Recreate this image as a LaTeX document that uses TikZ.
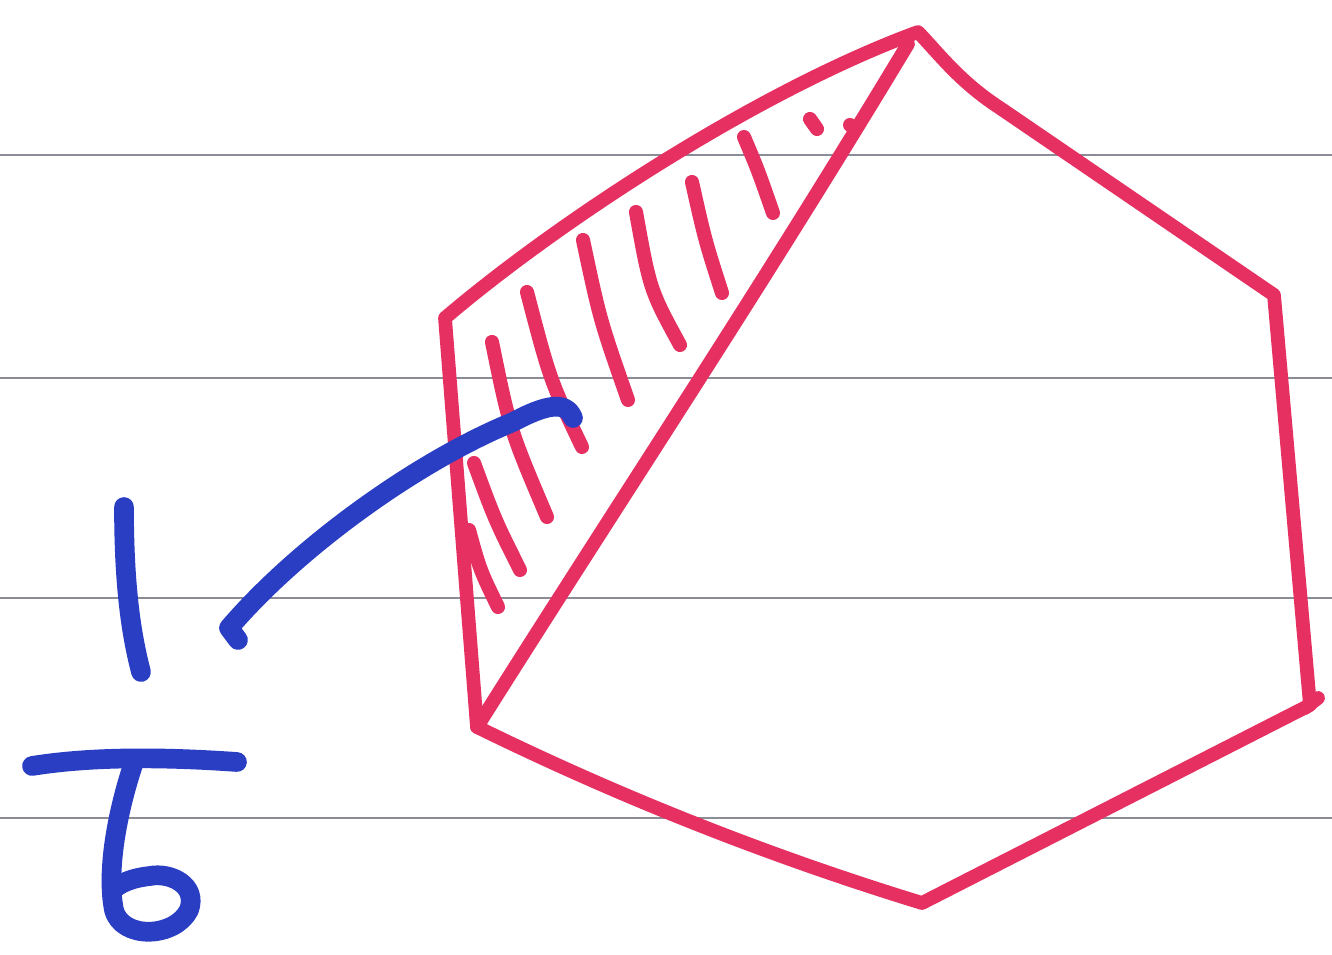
\documentclass[tikz,border=0pt]{standalone}
\usetikzlibrary{calc}
\definecolor{inkpink}{RGB}{230,48,98}
\definecolor{inkblue}{RGB}{42,62,196}
\definecolor{ruleline}{RGB}{140,140,150}
\tikzset{
  pinkpen/.style={draw=inkpink,line width=3.9pt,line cap=round,line join=round},
  hatchpen/.style={draw=inkpink,line width=4pt,line cap=round},
  bluepen/.style={draw=inkblue,line width=5.6pt,line cap=round,line join=round},
  rulepen/.style={draw=ruleline,line width=0.6pt}
}
\begin{document}
\begin{tikzpicture}[x=0.01cm,y=-0.01cm]
\fill[white] (0,0) rectangle (1332,955);
\useasboundingbox (0,0) rectangle (1332,955);
% ruled paper lines
\foreach \yy in {155,378,598,818}{
  \draw[rulepen] (0,\yy) -- (1332,\yy);
}
% hexagon vertices
\coordinate (A) at (918,32);
\coordinate (A2) at (1000,108);
\coordinate (B) at (1274,295);
\coordinate (C) at (1310,705);
\coordinate (D) at (922,903);
\coordinate (E) at (477,727);
\coordinate (F) at (445,318);
\coordinate (Atip) at (908,44);
% hexagon
\draw[pinkpen] (F) .. controls (560,220) and (760,90) .. (A)
  .. controls (940,55) and (960,82) .. (A2) -- (B) -- (C) -- (D)
  .. controls (775,858) and (626,800) .. (E) -- (F) -- cycle;
\draw[pinkpen] (1305,708) -- (1318,698);
% diagonal
\draw[pinkpen] (E) .. controls (620,500) and (760,290) .. (Atip);
\fill[inkpink] (850,125) circle (7);
% hatching
\draw[hatchpen] (810,119) -- (817,129);
\draw[hatchpen] (744,137) .. controls (758,170) .. (773,213);
\draw[hatchpen] (692,182) .. controls (705,240) .. (722,293);
\draw[hatchpen] (636,212) .. controls (650,290) .. (680,345);
\draw[hatchpen] (583,240) .. controls (600,320) .. (628,400);
\draw[hatchpen] (527,292) .. controls (550,380) .. (582,447);
\draw[hatchpen] (492,342) .. controls (510,430) .. (547,517);
\draw[hatchpen] (474,463) .. controls (495,520) .. (520,570);
\draw[hatchpen] (469,530) .. controls (480,570) .. (498,607);
% blue pointer curve
\coordinate (P0) at (238,640);
\coordinate (P1) at (229,628);
\coordinate (P2) at (573,418);
\draw[bluepen] (P0) -- (P1) .. controls (300,545) and (420,460) .. (513,422) .. controls (545,405) and (566,400) .. (P2);
% fraction 1/6
\draw[bluepen] (124,507) .. controls (124,580) and (130,630) .. (141,672);
\draw[bluepen] (32,766) .. controls (100,755) and (180,758) .. (237,762);
\draw[bluepen] (133,765) .. controls (118,810) and (106,870) .. (114,910)
  .. controls (122,940) and (175,938) .. (189,910)
  .. controls (198,885) and (170,872) .. (150,876)
  .. controls (132,878) and (120,883) .. (113,890);
\end{tikzpicture}
\end{document}
